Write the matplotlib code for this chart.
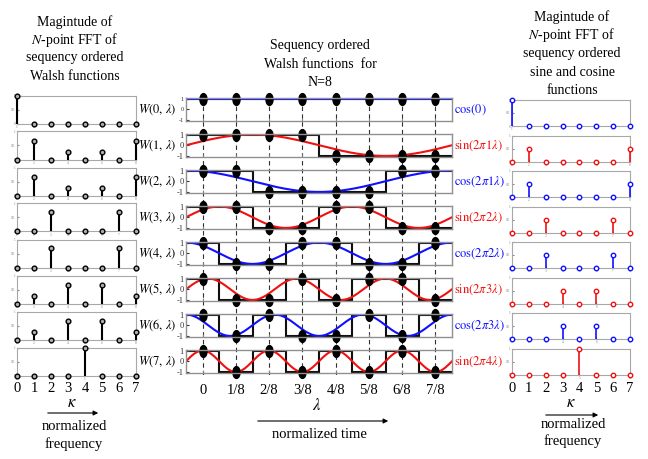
import numpy as np
import matplotlib
matplotlib.use('Agg')
import matplotlib.pyplot as plt
from matplotlib.path import Path
from matplotlib.transforms import blended_transform_factory

plt.rcParams['font.family'] = ['Liberation Serif', 'DejaVu Serif']
plt.rcParams['mathtext.fontset'] = 'stix'

# sequency ordered Walsh functions, N=8 (one row per W(k, lambda))
walsh = [
    [1, 1, 1, 1, 1, 1, 1, 1],
    [1, 1, 1, 1, -1, -1, -1, -1],
    [1, 1, -1, -1, -1, -1, 1, 1],
    [1, 1, -1, -1, 1, 1, -1, -1],
    [1, -1, -1, 1, 1, -1, -1, 1],
    [1, -1, -1, 1, -1, 1, 1, -1],
    [1, -1, 1, -1, -1, 1, -1, 1],
    [1, -1, 1, -1, 1, -1, 1, -1],
]

# |FFT| / N
walsh_fft = [
    [1.0, 0, 0, 0, 0, 0, 0, 0],
    [0, 0.65, 0, 0.27, 0, 0.27, 0, 0.65],
    [0, 0.65, 0, 0.27, 0, 0.27, 0, 0.65],
    [0, 0, 0.71, 0, 0, 0, 0.71, 0],
    [0, 0, 0.71, 0, 0, 0, 0.71, 0],
    [0, 0.27, 0, 0.65, 0, 0.65, 0, 0.27],
    [0, 0.27, 0, 0.65, 0, 0.65, 0, 0.27],
    [0, 0, 0, 0, 1.0, 0, 0, 0],
]

# |FFT| / N of the sine / cosine rows, right column
trig_fft = [
    [1.0, 0, 0, 0, 0, 0, 0, 0],
    [0, 0.5, 0, 0, 0, 0, 0, 0.5],
    [0, 0.5, 0, 0, 0, 0, 0, 0.5],
    [0, 0, 0.5, 0, 0, 0, 0.5, 0],
    [0, 0, 0.5, 0, 0, 0, 0.5, 0],
    [0, 0, 0, 0.5, 0, 0.5, 0, 0],
    [0, 0, 0, 0.5, 0, 0.5, 0, 0],
    [0, 0, 0, 0, 1.0, 0, 0, 0],
]

trig_freq = [0, 1, 1, 2, 2, 3, 3, 4]
trig_kind = ['cos', 'sin', 'cos', 'sin', 'cos', 'sin', 'cos', 'sin']
trig_labels = [r'$\mathrm{cos}(0)$', r'$\mathrm{sin}(2\pi 1\lambda)$',
               r'$\mathrm{cos}(2\pi 1\lambda)$', r'$\mathrm{sin}(2\pi 2\lambda)$',
               r'$\mathrm{cos}(2\pi 2\lambda)$', r'$\mathrm{sin}(2\pi 3\lambda)$',
               r'$\mathrm{cos}(2\pi 3\lambda)$', r'$\mathrm{sin}(2\pi 4\lambda)$']
time_labels = ['0', '1/8', '2/8', '3/8', '4/8', '5/8', '6/8', '7/8']
freq_labels = ['0', '1', '2', '3', '4', '5', '6', '7']

BLUE = '#1010ff'
RED = '#f01010'
FRAME = '#a8a8a8'

W, H = 648, 459
fig = plt.figure(figsize=(W / 100, H / 100), dpi=100)


def rect(x0, y_top, x1, y_bot):
    return [x0 / W, 1 - y_bot / H, (x1 - x0) / W, (y_bot - y_top) / H]


def fx(x):
    return x / W


def fy(y):
    return 1 - y / H


def style_frame(ax, color=FRAME, lw=0.8):
    for s in ax.spines.values():
        s.set_color(color)
        s.set_linewidth(lw)


ellipse = Path(Path.unit_circle().vertices * [0.6, 1.0], Path.unit_circle().codes)
n = np.arange(8)
lam = np.linspace(-0.5, 7.5, 400)

# dashed sample lines behind the middle column
ax_dash = fig.add_axes(rect(186, 98, 452, 375))
ax_dash.set_xlim(-0.5, 7.5)
ax_dash.axis('off')
ax_dash.set_zorder(0)
for x in n:
    ax_dash.axvline(x, color='#303030', lw=0.8, ls=(0, (4, 3)))

for i in range(8):
    color = BLUE if trig_kind[i] == 'cos' else RED

    # left: FFT of Walsh function
    axl = fig.add_axes(rect(17, 95.5 + 36 * i, 136, 123.5 + 36 * i))
    m, s, b = axl.stem(n + 1, walsh_fft[i], linefmt='k-', basefmt=' ')
    s.set_linewidth(1.5)
    s.set_zorder(3)
    s.set_clip_on(False)
    m.set_markerfacecolor('#b0b0b0')
    m.set_markeredgecolor('k')
    m.set_markersize(3.4)
    m.set_clip_on(False)
    m.set_zorder(4)
    axl.set_xlim(1, 8)
    axl.set_ylim(0, 1)
    axl.set_xticks(n + 1)
    axl.set_yticks([0, 0.5, 1])
    axl.set_yticklabels(['0', '0.5', '1'])
    axl.tick_params(labelsize=2.5, length=1.5, direction='in', pad=1,
                    colors='#808080')
    style_frame(axl)

    # middle: Walsh function and matching sinusoid
    axm = fig.add_axes(rect(186, 98 + 36 * i, 452, 120.5 + 36 * i))
    axm.set_zorder(1)
    axm.patch.set_alpha(0)
    if trig_kind[i] == 'cos':
        curve = np.cos(2 * np.pi * trig_freq[i] * (lam + 0.5) / 8)
    else:
        curve = np.sin(2 * np.pi * trig_freq[i] * (lam + 0.5) / 8)
    axm.plot(lam, curve, color=color, lw=1.5)
    axm.stairs(walsh[i], np.arange(-0.5, 8.5), baseline=None, color='#101010', lw=1.5)
    axm.plot(n, walsh[i], ls='none', marker=ellipse, ms=8.5, color='k', clip_on=False)
    axm.set_xlim(-0.5, 7.5)
    axm.set_ylim(-1.05, 1.05)
    axm.set_xticks(n)
    axm.set_xticklabels([])
    axm.set_yticks([-1, 0, 1])
    axm.set_yticklabels(['-1', '0', '1'])
    axm.tick_params(axis='y', labelsize=4.5 if i == 0 else 6, length=2,
                    direction='in', pad=1.5, colors='#303030')
    axm.tick_params(axis='x', length=2, direction='in', colors='#808080')
    style_frame(axm, '#909090', 1.0)
    axm.text(fx(177), fy(109.5 + 36 * i), r'$W(%d,\,\lambda)$' % i,
             transform=fig.transFigure, ha='right', va='center', fontsize=9)
    axm.text(fx(454), fy(109.5 + 36 * i), trig_labels[i], color=color,
             transform=fig.transFigure, ha='left', va='center', fontsize=9)

    # right: FFT of sine / cosine
    axr = fig.add_axes(rect(512, 100 + 35.5 * i, 630, 126 + 35.5 * i))
    m, s, b = axr.stem(n + 1, trig_fft[i], linefmt='-', basefmt=' ')
    s.set_color(color)
    s.set_linewidth(1.2)
    s.set_zorder(3)
    s.set_clip_on(False)
    m.set_color(color)
    m.set_markerfacecolor('white')
    m.set_markersize(3.2)
    m.set_clip_on(False)
    m.set_zorder(4)
    axr.set_xlim(1, 8)
    axr.set_ylim(0, 1)
    axr.set_xticks(n + 1)
    axr.set_yticks([0, 0.5, 1])
    axr.set_yticklabels(['0', '0.5', '1'])
    axr.tick_params(labelsize=2.5, length=1.5, direction='in', pad=1,
                    colors='#808080')
    style_frame(axr)

    if i == 7:
        axm.set_xticklabels(time_labels, fontsize=10.5, color='k')
        axm.tick_params(axis='x', pad=8, labelcolor='k')
        tl = blended_transform_factory(axl.transData, fig.transFigure)
        tr = blended_transform_factory(axr.transData, fig.transFigure)
        for k, lab in enumerate(freq_labels):
            axl.text(k + 1, fy(388), lab, transform=tl, ha='center', va='center',
                     fontsize=10.5)
            axr.text(k + 1, fy(388), lab, transform=tr, ha='center', va='center',
                     fontsize=10.5)

# titles
for y, t in zip([22, 40, 58, 76], ['Magintude of', r'$N$-point FFT of',
                                   'sequency ordered', 'Walsh functions']):
    fig.text(fx(75), fy(y), t, ha='center', va='center', fontsize=10)
for y, t in zip([46, 64, 82], ['Sequency ordered', 'Walsh functions  for', 'N=8']):
    fig.text(fx(320), fy(y), t, ha='center', va='center', fontsize=10)
for y, t in zip([17, 35, 53, 72, 90], ['Magintude of', r'$N$-point FFT of',
                                       'sequency ordered', 'sine and cosine',
                                       'functions']):
    fig.text(fx(572), fy(y), t, ha='center', va='center', fontsize=10)

# axis captions and arrows
fig.text(fx(72), fy(403), r'$\kappa$', ha='center', va='center', fontsize=12)
fig.text(fx(571), fy(403), r'$\kappa$', ha='center', va='center', fontsize=12)
fig.text(fx(317), fy(406), r'$\lambda$', ha='center', va='center', fontsize=12)
arrow = dict(arrowstyle='-|>', color='k', lw=0.8, mutation_scale=7)
fig.patches.append(matplotlib.patches.FancyArrowPatch(
    (fx(45), fy(413)), (fx(101), fy(413)), transform=fig.transFigure, **arrow))
fig.patches.append(matplotlib.patches.FancyArrowPatch(
    (fx(543), fy(415)), (fx(601), fy(415)), transform=fig.transFigure, **arrow))
fig.patches.append(matplotlib.patches.FancyArrowPatch(
    (fx(255), fy(421)), (fx(391), fy(421)), transform=fig.transFigure, **arrow))
fig.text(fx(74), fy(427), 'normalized', ha='center', va='center', fontsize=10.5)
fig.text(fx(74), fy(444), 'frequency', ha='center', va='center', fontsize=10.5)
fig.text(fx(573), fy(424), 'normalized', ha='center', va='center', fontsize=10.5)
fig.text(fx(573), fy(441), 'frequency', ha='center', va='center', fontsize=10.5)
fig.text(fx(319), fy(435), 'normalized time', ha='center', va='center', fontsize=10.5)

fig.savefig('out.png', dpi=100)
